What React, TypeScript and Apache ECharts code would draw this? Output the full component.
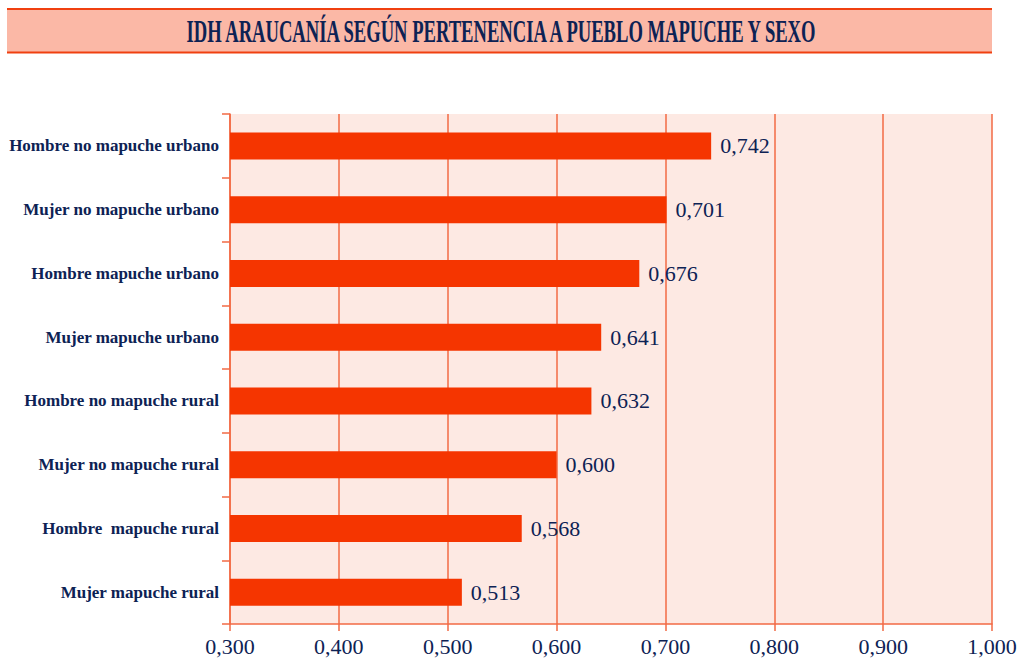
import React, { useEffect, useRef } from "react";
import * as echarts from "echarts";

const categories = [
  "Hombre no mapuche urbano",
  "Mujer no mapuche urbano",
  "Hombre mapuche urbano",
  "Mujer mapuche urbano",
  "Hombre no mapuche rural",
  "Mujer no mapuche rural",
  "Hombre  mapuche rural",
  "Mujer mapuche rural",
];
const values = [0.742, 0.701, 0.676, 0.641, 0.632, 0.6, 0.568, 0.513];
const titleText = "IDH ARAUCANÍA SEGÚN PERTENENCIA A PUEBLO MAPUCHE Y SEXO";

const NAVY = "#0D2254";
const ORANGE = "#F26A45";
const fmt = (v: number) => v.toFixed(3).replace(".", ",");

export default function App() {
  const ref = useRef<HTMLDivElement>(null);
  useEffect(() => {
    const chart = echarts.init(ref.current!, null, { renderer: "svg" });
    chart.setOption({
      animation: false,
      backgroundColor: "#FFFFFF",
      graphic: [
        {
          type: "rect",
          shape: { x: 7, y: 9, width: 985, height: 44 },
          style: { fill: "#FBB8A6", stroke: null },
        },
        {
          type: "line",
          shape: { x1: 7, y1: 9, x2: 992, y2: 9 },
          style: { stroke: "#F04010", lineWidth: 2 },
        },
        {
          type: "line",
          shape: { x1: 7, y1: 52.5, x2: 992, y2: 52.5 },
          style: { stroke: "#F04010", lineWidth: 2 },
        },
        {
          type: "text",
          x: 501,
          y: 32,
          scaleX: 0.6,
          style: {
            text: titleText,
            fill: NAVY,
            font: "bold 31px 'Liberation Serif'",
            textAlign: "center",
            textVerticalAlign: "middle",
          },
        },
      ],
      grid: {
        left: 230,
        right: 25,
        top: 114,
        bottom: 39,
        show: true,
        backgroundColor: "#FDE9E3",
        borderWidth: 0,
        outerBoundsMode: "none",
        containLabel: false,
      },
      xAxis: {
        type: "value",
        min: 0.3,
        max: 1.0,
        interval: 0.1,
        axisLine: { show: true, lineStyle: { color: ORANGE, width: 1.5 } },
        axisTick: { show: true, length: 7, lineStyle: { color: ORANGE, width: 1.5 } },
        splitLine: { show: true, lineStyle: { color: ORANGE, width: 1.5 } },
        axisLabel: {
          formatter: (v: number) => fmt(v),
          color: NAVY,
          fontFamily: "Liberation Serif",
          fontSize: 22,
          margin: 11,
        },
      },
      yAxis: {
        type: "category",
        inverse: true,
        data: categories,
        axisLine: { show: true, lineStyle: { color: ORANGE, width: 1.5 } },
        axisTick: { show: true, length: 8, lineStyle: { color: ORANGE, width: 1.5 } },
        axisLabel: {
          color: NAVY,
          fontFamily: "Liberation Serif",
          fontWeight: "bold",
          fontSize: 17,
          margin: 11,
        },
      },
      series: [
        {
          type: "bar",
          data: values,
          barWidth: 27,
          itemStyle: { color: "#F53500" },
          label: {
            show: true,
            position: "right",
            distance: 9,
            formatter: (p: any) => fmt(p.value),
            color: NAVY,
            fontFamily: "Liberation Serif",
            fontSize: 22,
          },
        },
      ],
    });
    return () => chart.dispose();
  }, []);
  return (
    <div
      ref={ref}
      style={{ position: "fixed", left: 0, top: 0, width: 1017, height: 663 }}
    />
  );
}
